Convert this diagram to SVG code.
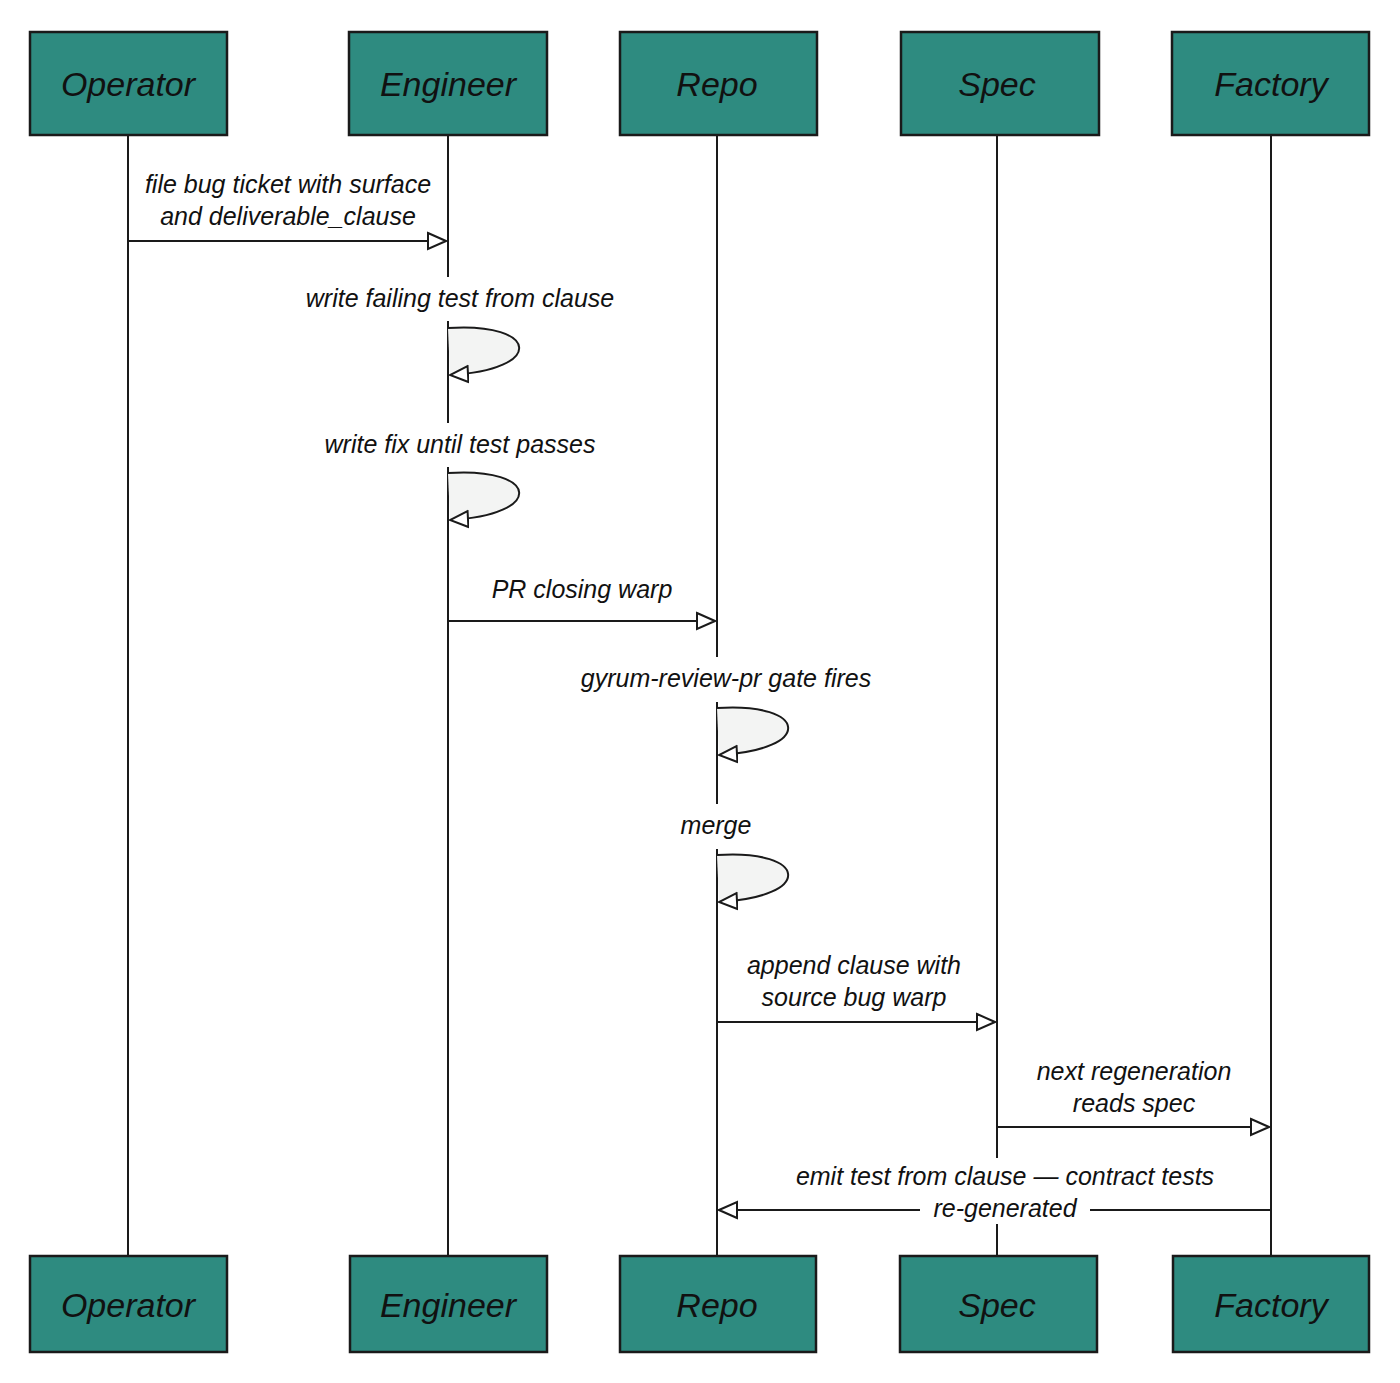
<svg xmlns="http://www.w3.org/2000/svg" width="1400" height="1383" viewBox="0 0 1400 1383">
<style>
.box{fill:#2e8b80;stroke:#1a1a1a;stroke-width:2.5}
.hd{font-family:"Liberation Sans",sans-serif;font-style:italic;font-size:34px;fill:#111;text-anchor:middle}
.life{stroke:#1a1a1a;stroke-width:2;fill:none}
.msg{stroke:#1a1a1a;stroke-width:2;fill:none}
.loop{stroke:#1a1a1a;stroke-width:2;fill:#f3f4f3}
.bg{fill:#fff}
.lb{font-family:"Liberation Sans",sans-serif;font-style:italic;font-size:25px;fill:#111;text-anchor:middle}
</style>
<defs>
<marker id="ah" viewBox="0 0 20 20" refX="19" refY="10" markerWidth="20" markerHeight="20" markerUnits="userSpaceOnUse" orient="auto">
<path d="M1,2 L19,10 L1,18 Z" fill="#fff" stroke="#1a1a1a" stroke-width="2"/>
</marker>
</defs>
<rect width="1400" height="1383" fill="#fff"/>
<g id="lifelines">
<line class="life" x1="128" y1="135" x2="128" y2="1256"/>
<line class="life" x1="448" y1="135" x2="448" y2="1256"/>
<line class="life" x1="717" y1="135" x2="717" y2="1256"/>
<line class="life" x1="997" y1="135" x2="997" y2="1256"/>
<line class="life" x1="1271" y1="135" x2="1271" y2="1256"/>
</g>
<g id="n-operator"><rect class="box" x="30" y="32" width="197" height="103"/><text class="hd" x="128" y="96">Operator</text></g>
<g id="n-engineer"><rect class="box" x="349" y="32" width="198" height="103"/><text class="hd" x="448" y="96">Engineer</text></g>
<g id="n-repo"><rect class="box" x="620" y="32" width="197" height="103"/><text class="hd" x="717" y="96">Repo</text></g>
<g id="n-spec"><rect class="box" x="901" y="32" width="198" height="103"/><text class="hd" x="997" y="96">Spec</text></g>
<g id="n-factory"><rect class="box" x="1172" y="32" width="197" height="103"/><text class="hd" x="1271" y="96">Factory</text></g>
<g id="n-operator-b"><rect class="box" x="30" y="1256" width="197" height="96"/><text class="hd" x="128" y="1317">Operator</text></g>
<g id="n-engineer-b"><rect class="box" x="350" y="1256" width="197" height="96"/><text class="hd" x="448" y="1317">Engineer</text></g>
<g id="n-repo-b"><rect class="box" x="620" y="1256" width="196" height="96"/><text class="hd" x="717" y="1317">Repo</text></g>
<g id="n-spec-b"><rect class="box" x="900" y="1256" width="197" height="96"/><text class="hd" x="997" y="1317">Spec</text></g>
<g id="n-factory-b"><rect class="box" x="1173" y="1256" width="196" height="96"/><text class="hd" x="1271" y="1317">Factory</text></g>
<g id="connectors">
<line class="msg" x1="128" y1="241" x2="446" y2="241" marker-end="url(#ah)"/>
<path class="loop" d="M448,328 C540,322 545,370 450,375" marker-end="url(#ah)"/>
<path class="loop" d="M448,473 C540,467 545,515 450,520" marker-end="url(#ah)"/>
<line class="msg" x1="448" y1="621" x2="715" y2="621" marker-end="url(#ah)"/>
<path class="loop" d="M717,708 C809,702 814,750 719,755" marker-end="url(#ah)"/>
<path class="loop" d="M717,855 C809,849 814,897 719,902" marker-end="url(#ah)"/>
<line class="msg" x1="717" y1="1022" x2="995" y2="1022" marker-end="url(#ah)"/>
<line class="msg" x1="997" y1="1127" x2="1269" y2="1127" marker-end="url(#ah)"/>
<line class="msg" x1="1271" y1="1210" x2="719" y2="1210" marker-end="url(#ah)"/>
</g>
<g id="labels">
<rect class="bg" x="292" y="277" width="336" height="44"/>
<rect class="bg" x="312" y="423" width="296" height="44"/>
<rect class="bg" x="575" y="657" width="303" height="45"/>
<rect class="bg" x="676" y="804" width="82" height="45"/>
<rect class="bg" x="778" y="1158" width="454" height="36"/>
<rect class="bg" x="920" y="1194" width="170" height="30"/>
<text class="lb" x="288" y="193">file bug ticket with surface</text>
<text class="lb" x="288" y="225">and deliverable_clause</text>
<text class="lb" x="460" y="307">write failing test from clause</text>
<text class="lb" x="460" y="453">write fix until test passes</text>
<text class="lb" x="582" y="598">PR closing warp</text>
<text class="lb" x="726" y="687">gyrum-review-pr gate fires</text>
<text class="lb" x="716" y="834">merge</text>
<text class="lb" x="854" y="974">append clause with</text>
<text class="lb" x="854" y="1006">source bug warp</text>
<text class="lb" x="1134" y="1080">next regeneration</text>
<text class="lb" x="1134" y="1112">reads spec</text>
<text class="lb" x="1005" y="1185">emit test from clause — contract tests</text>
<text class="lb" x="1005" y="1217">re-generated</text>
</g>
</svg>
